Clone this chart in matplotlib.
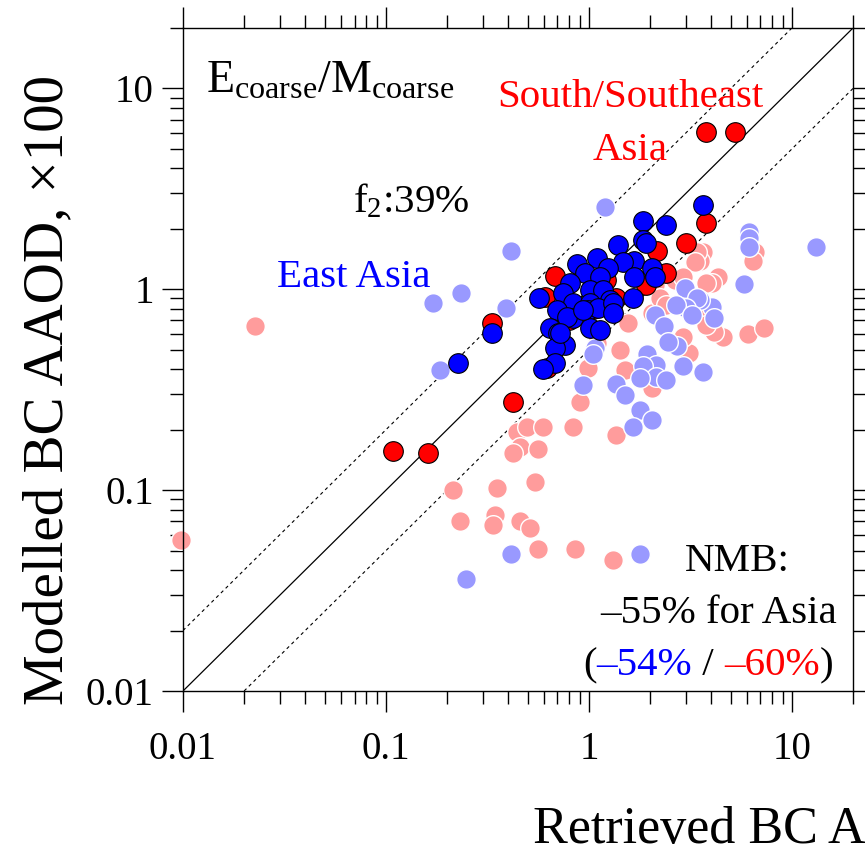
import matplotlib
matplotlib.use('Agg')
import matplotlib.pyplot as plt
from matplotlib import transforms
from matplotlib.ticker import FixedLocator, FixedFormatter

plt.rcParams['font.family'] = ['Liberation Serif', 'DejaVu Serif']
plt.rcParams['mathtext.fontset'] = 'custom'
plt.rcParams['mathtext.rm'] = 'Liberation Serif'
plt.rcParams['mathtext.it'] = 'Liberation Serif:italic'

# East Asia, E_coarse / M_coarse
ea_x = [3.63, 1.85, 2.39, 1.85, 1.39, 1.90, 1.67, 1.47, 2.05, 2.11, 1.67, 1.64,
        0.873, 1.095, 1.24, 0.955, 0.806, 1.13, 0.745, 1.01, 0.834, 1.17, 1.27,
        1.01, 0.695, 0.834, 0.988, 1.107, 1.31, 1.31, 0.642, 0.703, 1.01, 1.13,
        0.762, 0.68, 0.68, 0.593, 0.57, 0.333, 0.226, 0.78, 0.934, 0.72]
ea_y = [2.62, 2.2, 2.08, 1.75, 1.66, 1.71, 1.39, 1.36, 1.27, 1.15, 1.15, 0.91,
        1.33, 1.44, 1.27, 1.20, 1.08, 1.15, 0.96, 0.989, 0.855, 0.989, 0.882,
        0.855, 0.786, 0.722, 0.786, 0.805, 0.855, 0.765, 0.645, 0.607, 0.645, 0.625,
        0.526, 0.51, 0.43, 0.40, 0.91, 0.607, 0.43, 0.73, 0.786, 0.607]

# South/Southeast Asia, E_coarse / M_coarse
sa_x = [3.77, 5.27, 3.77, 3.02, 2.17, 2.39, 1.90, 0.68, 1.36, 1.22, 0.333, 0.62,
        0.423, 0.108, 0.161, 0.61, 1.05, 0.80]
sa_y = [6.04, 6.04, 2.15, 1.71, 1.56, 1.20, 1.05, 1.17, 0.91, 1.11, 0.68, 0.407,
        0.274, 0.156, 0.153, 0.92, 0.80, 0.70]

# remaining sites, East Asia
ea_bg_x = [1.2, 0.413, 0.234, 0.171, 0.39, 0.185, 0.413, 0.248, 1.78, 6.17, 6.17,
           6.17, 13.1, 5.8, 4.06, 4.15, 3.63, 3.52, 2.97, 3.40, 3.02, 2.68, 3.23,
           2.11, 2.35, 2.71, 2.45, 1.93, 2.13, 1.85, 2.13, 2.39, 1.78, 1.36, 1.50,
           1.78, 1.64, 2.05, 1.07, 1.047, 2.9, 0.934]
ea_bg_y = [2.56, 1.56, 0.96, 0.855, 0.805, 0.395, 0.048, 0.0362, 0.048, 1.92, 1.81,
           1.62, 1.62, 1.06, 0.82, 0.722, 0.386, 0.88, 1.02, 0.91, 0.805, 0.832, 0.743,
           0.743, 0.655, 0.52, 0.545, 0.475, 0.42, 0.415, 0.368, 0.353, 0.363, 0.337,
           0.297, 0.25, 0.207, 0.223, 0.51, 0.475, 0.415, 0.335]

# remaining sites, South/Southeast Asia
sa_bg_x = [0.0227, 0.00977, 0.903, 0.442, 0.498, 0.593, 0.834, 1.36, 0.457, 0.423,
           0.561, 0.214, 0.352, 0.542, 0.232, 0.344, 0.337, 0.457, 0.512, 0.561,
           0.853, 1.31, 0.988, 1.42, 1.50, 2.05, 3.1, 4.59, 6.1, 4.15, 3.63, 1.56,
           2.05, 3.63, 3.52, 6.6, 6.42, 4.32, 4.06, 7.28, 3.40, 3.33, 2.65, 2.9,
           3.77, 2.11, 2.24, 2.39, 3.77, 2.9, 1.095]
sa_bg_y = [0.66, 0.0564, 0.274, 0.194, 0.207, 0.207, 0.207, 0.189, 0.164, 0.153,
           0.16, 0.1, 0.102, 0.11, 0.07, 0.075, 0.067, 0.07, 0.065, 0.051,
           0.051, 0.045, 0.407, 0.5, 0.395, 0.321, 0.48, 0.58, 0.60, 0.61, 0.722, 0.68,
           0.765, 1.53, 1.39, 1.53, 1.39, 1.15, 1.08, 0.645, 1.53, 1.36, 1.11, 1.15,
           1.08, 1.05, 0.91, 0.832, 0.662, 0.58, 0.538]

ticks = [0.01, 0.1, 1, 10]
tick_labels = ['0.01', '0.1', '1', '10']
lims = (0.01, 20)

fig = plt.figure(figsize=(8.65, 8.55), dpi=100)
ax = fig.add_axes([183 / 865, 1 - 691 / 855, 670 / 865, 663 / 855])
ax.set_xscale('log')
ax.set_yscale('log')
ax.set_xlim(lims)
ax.set_ylim(lims)

# 1:1 line and factor-of-2 lines
ax.plot(lims, lims, color='black', lw=0.9, zorder=1)
ax.plot([lims[0], lims[1] / 2], [lims[0] * 2, lims[1]], color='black', lw=0.8,
        ls=(0, (3, 3)), zorder=1)
ax.plot([lims[0] * 2, lims[1]], [lims[0], lims[1] / 2], color='black', lw=0.8,
        ls=(0, (3, 3)), zorder=1)

ms = 200
ax.scatter(sa_bg_x, sa_bg_y, s=ms, c='#FF9C9C', edgecolors='white', linewidths=1.0,
           zorder=2, clip_on=False)
ax.scatter(ea_bg_x, ea_bg_y, s=ms, c='#9999FF', edgecolors='white', linewidths=1.0,
           zorder=3, clip_on=False)
ax.scatter(sa_x, sa_y, s=ms, c='#FF0000', edgecolors='black', linewidths=0.8,
           zorder=4, clip_on=False)
ax.scatter(ea_x, ea_y, s=ms, c='#0000FF', edgecolors='black', linewidths=0.8,
           zorder=5, clip_on=False)

for axis in (ax.xaxis, ax.yaxis):
    axis.set_major_locator(FixedLocator(ticks))
    axis.set_major_formatter(FixedFormatter(tick_labels))
ax.tick_params(which='both', direction='out', top=True, right=True, width=1.0,
               labelsize=28)
ax.tick_params(which='major', length=15)
ax.tick_params(which='minor', length=9.5)
ax.tick_params(axis='x', which='major', pad=14)
ax.tick_params(axis='y', which='major', pad=6)
for sp in ax.spines.values():
    sp.set_linewidth(1.0)


def axpos(px, py):
    return (px - 183) / 670, (691 - py) / 663


fs = 29.5
ax.text(*axpos(206, 93), r'E$_{\rm coarse}$/M$_{\rm coarse}$', fontsize=33,
        transform=ax.transAxes, va='baseline')
ax.text(*axpos(353, 212), r'f$_{\rm 2}$:39%', fontsize=fs, transform=ax.transAxes,
        va='baseline')
ax.text(*axpos(277, 287), 'East Asia', fontsize=fs, color='#0000FF',
        transform=ax.transAxes, va='baseline')
ax.text(*axpos(630, 107), 'South/Southeast', fontsize=fs, color='#FF0000',
        transform=ax.transAxes, va='baseline', ha='center')
ax.text(*axpos(630, 160), 'Asia', fontsize=fs, color='#FF0000',
        transform=ax.transAxes, va='baseline', ha='center')
ax.text(*axpos(685, 571), 'NMB:', fontsize=fs, transform=ax.transAxes, va='baseline')
ax.text(*axpos(600, 623), '–55% for Asia', fontsize=fs, transform=ax.transAxes,
        va='baseline')

# multi-coloured last line
renderer = fig.canvas.get_renderer()
tr = ax.transAxes
x0, y0 = axpos(583, 675)
for piece, col in [('(', 'black'), ('–54%', '#0000FF'), (' / ', 'black'),
                   ('–60%', '#FF0000'), (')', 'black')]:
    t = ax.text(x0, y0, piece, fontsize=fs, color=col, transform=tr, va='baseline')
    t.draw(renderer)
    ex = t.get_window_extent(renderer)
    tr = transforms.offset_copy(t.get_transform(), fig=fig, x=ex.width, units='dots')

fig.text(533 / 865, 1 - 842 / 855, 'Retrieved BC AAOD, ×100', fontsize=37.5,
         ha='left', va='baseline')
fig.text(48 / 865, 1 - 390 / 855, 'Modelled BC AAOD, ×100', fontsize=41,
         rotation=90, ha='center', va='center')

fig.savefig('out.png', dpi=100)
